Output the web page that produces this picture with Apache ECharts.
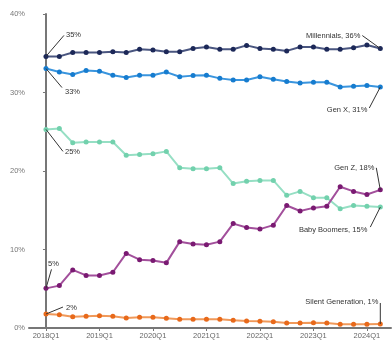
<!DOCTYPE html>
<html><head><meta charset="utf-8">
<script src="https://cdn.jsdelivr.net/npm/echarts@6/dist/echarts.min.js"></script>
<style>html,body{margin:0;padding:0;background:#fff}#c{width:392px;height:344px}</style>
</head><body><div id="c"></div>
<script>
const quarters = ["2018Q1","2018Q2","2018Q3","2018Q4","2019Q1","2019Q2","2019Q3","2019Q4","2020Q1","2020Q2","2020Q3","2020Q4","2021Q1","2021Q2","2021Q3","2021Q4","2022Q1","2022Q2","2022Q3","2022Q4","2023Q1","2023Q2","2023Q3","2023Q4","2024Q1","2024Q2"];
const tickIdx = [0,4,8,12,16,20,24];
const yTicks = [0,10,20,30,40];
const millennials = [34.6,34.6,35.1,35.1,35.1,35.2,35.1,35.5,35.4,35.2,35.2,35.6,35.8,35.5,35.5,36.0,35.6,35.5,35.3,35.8,35.8,35.5,35.5,35.7,36.05,35.6];
const genX = [33.05,32.6,32.3,32.8,32.7,32.2,31.9,32.2,32.2,32.6,32.0,32.15,32.2,31.8,31.6,31.6,32.0,31.7,31.4,31.2,31.3,31.3,30.7,30.8,30.9,30.7];
const boomers = [25.3,25.4,23.6,23.7,23.7,23.7,22.0,22.1,22.2,22.5,20.4,20.3,20.3,20.4,18.4,18.7,18.8,18.8,16.9,17.4,16.6,16.6,15.2,15.6,15.5,15.4];
const genZ = [5.05,5.4,7.4,6.7,6.7,7.1,9.5,8.7,8.6,8.3,11.0,10.7,10.6,11.0,13.3,12.8,12.6,13.1,15.6,14.9,15.3,15.5,18.0,17.4,17.0,17.6];
const silent = [1.78,1.7,1.44,1.5,1.55,1.5,1.27,1.36,1.36,1.23,1.1,1.12,1.1,1.1,0.98,0.9,0.85,0.8,0.64,0.64,0.68,0.64,0.47,0.47,0.47,0.51];

const names = ["Millennials","Gen X","Baby Boomers","Gen Z","Silent Generation"];
const dataSets = [millennials, genX, boomers, genZ, silent];
const lineColors = ["#4a5680","#3a95de","#96dfc4","#a24f9b","#f0995a"];
const dotColors = ["#1c2858","#167ccf","#72d1ad","#7a1a72","#e8691a"];
const FONT = 'Liberation Sans, Arial, sans-serif';

const chart = echarts.init(document.getElementById('c'), null, {renderer:'canvas'});
const series = dataSets.map((d,i)=>({
  name: names[i], type:'line', data: d.map((v,j)=>[j,v]),
  symbol:'circle', symbolSize:5, smooth:false,
  lineStyle:{color:lineColors[i], width:2},
  itemStyle:{color:dotColors[i]},
  z: 2, silent:true, animation:false
}));
chart.setOption({
  animation:false,
  grid:{left:29, right:1, top:14, bottom:16, containLabel:false},
  xAxis:{type:'value', min:-1.27, max:25.8,
    axisLine:{show:true, lineStyle:{color:'#777', width:2}},
    axisTick:{show:true, customValues:tickIdx, length:3, lineStyle:{color:'#777'}},
    axisLabel:{customValues:tickIdx, formatter:v=>quarters[v], color:'#666', fontSize:7.5, fontFamily:FONT, margin:4},
    splitLine:{show:false}},
  yAxis:{type:'value', min:0, max:40, interval:10,
    axisLine:{show:true, lineStyle:{color:'#777', width:2}},
    axisTick:{show:true, length:3, lineStyle:{color:'#777'}},
    axisLabel:{formatter:v=>v+'%', color:'#777', fontSize:7.5, fontFamily:FONT, margin:4},
    splitLine:{show:false}},
  series
});

// annotations: [series index, data index, label text, text dx, text dy, align, line end dx, line end dy]
const annos = [
  [0,0,"35%",20,-21,'left',18,-21],
  [1,0,"33%",19,23,'left',16,19],
  [2,0,"25%",19,23,'left',17,22],
  [3,0,"5%",2,-24,'left',5.5,-19],
  [4,0,"2%",20,-6,'left',17,-7],
  [0,25,"Millennials, 36%",-20,-13,'right',-18,-13],
  [1,25,"Gen X, 31%",-13,23,'right',-11,21],
  [3,25,"Gen Z, 18%",-6,-22,'right',-4,-22],
  [2,25,"Baby Boomers, 15%",-13,23,'right',-10,20],
  [4,25,"Silent Generation, 1%",-2,-22,'right',0,-21]
];
const g = [];
annos.forEach(a=>{
  const d = dataSets[a[0]];
  const p = chart.convertToPixel({gridIndex:0},[a[1], d[a[1]]]);
  g.push({type:'line', shape:{x1:p[0],y1:p[1],x2:p[0]+a[6],y2:p[1]+a[7]}, style:{stroke:'#333', lineWidth:1}, z:10});
  g.push({type:'text', x:p[0]+a[3], y:p[1]+a[4], style:{text:a[2], fill:'#333', fontSize:7.5, fontFamily:FONT, align:a[5], verticalAlign:'middle'}, z:10});
});
chart.setOption({graphic:g});
</script></body></html>
